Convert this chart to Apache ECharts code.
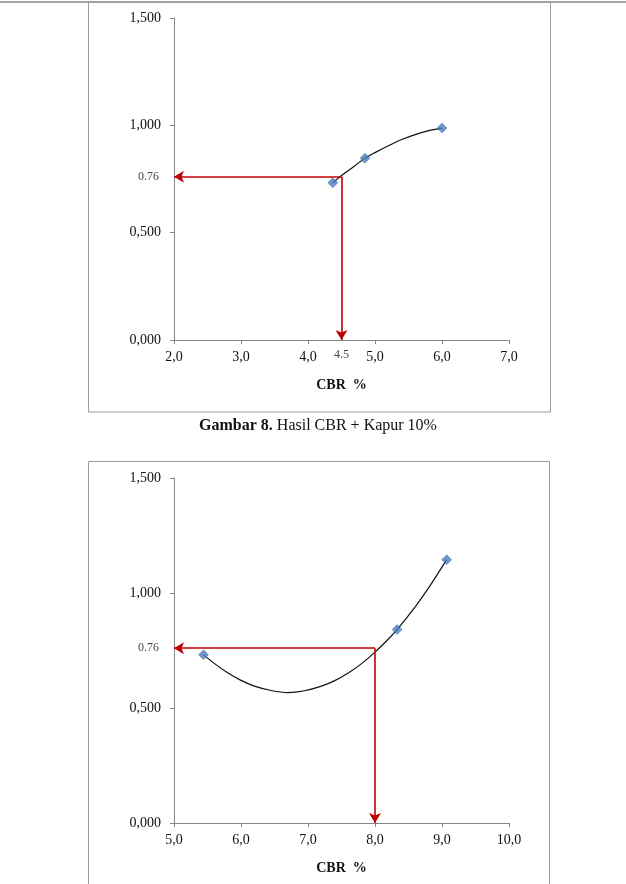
<!DOCTYPE html>
<html>
<head>
<meta charset="utf-8">
<script src="https://cdn.jsdelivr.net/npm/echarts@6/dist/echarts.min.js"></script>
<style>
  html, body { margin: 0; padding: 0; background: #fff; }
  #chart { width: 626px; height: 884px; }
</style>
</head>
<body>
<div id="chart"></div>
<script>
// Gambar 8: CBR + Kapur 10% (top chart)
const pointsTop = [[4.37, 0.732], [4.85, 0.847], [6.0, 0.987]];
const trendTop = [[4.37, 0.732], [4.5, 0.766], [4.7, 0.812], [4.85, 0.847], [5.0, 0.873], [5.2, 0.905], [5.4, 0.934], [5.6, 0.957], [5.8, 0.975], [6.0, 0.987]];
const guideTop = [4.5, 0.76];

// second chart (bottom)
const pointsBottom = [[5.44, 0.732], [8.33, 0.841], [9.07, 1.145]];
const trendBottom = [[5.44, 0.732], [5.6, 0.694], [5.8, 0.653], [6.0, 0.62], [6.2, 0.595], [6.45, 0.576], [6.7, 0.567], [6.95, 0.575], [7.2, 0.595], [7.4, 0.619], [7.6, 0.652], [7.8, 0.693], [8.0, 0.743], [8.2, 0.8], [8.33, 0.841], [8.6, 0.94], [8.8, 1.022], [9.07, 1.145]];
const guideBottom = [8.0, 0.76];

const xRangeTop = [2, 7];
const xRangeBottom = [5, 10];
const yRange = [0, 1.5];

const serif = 'Liberation Serif';
const red = '#C00000';
const axisGrey = '#868686';

function xAxis(idx, range) {
  return {
    type: 'value', gridIndex: idx, min: range[0], max: range[1], interval: 1,
    name: 'CBR  %', nameLocation: 'middle', nameGap: 38,
    nameTextStyle: { fontFamily: serif, fontSize: 14, fontWeight: 'bold', color: '#111' },
    axisLine: { lineStyle: { color: axisGrey } },
    axisTick: { length: 4, lineStyle: { color: axisGrey } },
    splitLine: { show: false },
    axisLabel: { fontFamily: serif, fontSize: 14, color: '#111', margin: 10,
      formatter: v => v.toFixed(1).replace('.', ',') }
  };
}
function yAxis(idx) {
  return {
    type: 'value', gridIndex: idx, min: yRange[0], max: yRange[1], interval: 0.5,
    axisLine: { show: true, lineStyle: { color: axisGrey } },
    axisTick: { show: true, length: 4, lineStyle: { color: axisGrey } },
    splitLine: { show: false },
    axisLabel: { fontFamily: serif, fontSize: 14, color: '#111', margin: 13,
      formatter: v => v.toFixed(3).replace('.', ',') }
  };
}

function guideLines(g, xMin) {
  return {
    silent: true, animation: false,
    symbol: ['none', 'arrow'], symbolSize: [9, 10],
    lineStyle: { color: red, width: 1.6, type: 'solid' },
    label: { show: false },
    data: [
      [{ coord: [g[0], g[1]] }, { coord: [xMin, g[1]] }],
      [{ coord: [g[0], g[1]] }, { coord: [g[0], 0] }]
    ]
  };
}

function seriesFor(idx, pts, trend, g, xMin, showX) {
  const out = [
    {
      type: 'line', xAxisIndex: idx, yAxisIndex: idx, data: trend,
      smooth: 0.3, showSymbol: false, symbol: 'none',
      lineStyle: { color: '#111', width: 1.2 },
      markLine: guideLines(g, xMin), z: 3
    },
    {
      type: 'scatter', xAxisIndex: idx, yAxisIndex: idx, data: pts,
      symbol: 'diamond', symbolSize: 10,
      itemStyle: { color: '#4A7EBB', borderColor: '#3A6AA5', borderWidth: 0.5 }, z: 4
    },
    {
      type: 'scatter', xAxisIndex: idx, yAxisIndex: idx, data: [[xMin, g[1]]],
      symbolSize: 0, silent: true,
      label: { show: true, position: 'left', distance: 15, formatter: '0.76',
        fontFamily: serif, fontSize: 12, color: '#111' }
    }
  ];
  if (showX) {
    out.push({
      type: 'scatter', xAxisIndex: idx, yAxisIndex: idx, data: [[g[0], 0]],
      symbolSize: 0, silent: true,
      label: { show: true, position: 'bottom', distance: 9, formatter: '4.5',
        fontFamily: serif, fontSize: 12, color: '#111' }
    });
  }
  return out;
}

const chart = echarts.init(document.getElementById('chart'), null, { renderer: 'canvas' });
chart.setOption({
  animation: false,
  backgroundColor: '#fff',
  grid: [
    { left: 174, top: 18, width: 335, height: 322 },
    { left: 174, top: 478, width: 335, height: 345 }
  ],
  xAxis: [xAxis(0, xRangeTop), xAxis(1, xRangeBottom)],
  yAxis: [yAxis(0), yAxis(1)],
  series: [].concat(
    seriesFor(0, pointsTop, trendTop, guideTop, xRangeTop[0], true),
    seriesFor(1, pointsBottom, trendBottom, guideBottom, xRangeBottom[0], false)
  ),
  graphic: [
    { type: 'line', shape: { x1: 0, y1: 2, x2: 626, y2: 2 }, style: { stroke: '#8a8a8a', lineWidth: 1.5 } },
    { type: 'rect', shape: { x: 88.5, y: 2, width: 462, height: 410 }, style: { fill: 'none', stroke: '#9a9a9a', lineWidth: 1 } },
    { type: 'rect', shape: { x: 88.5, y: 461.5, width: 461, height: 440 }, style: { fill: 'none', stroke: '#9a9a9a', lineWidth: 1 } },
    {
      type: 'text', x: 318, y: 426,
      style: {
        text: '{b|Gambar 8.} Hasil CBR + Kapur 10%',
        align: 'center', verticalAlign: 'middle',
        font: '16px "Liberation Serif"', fill: '#111',
        rich: { b: { fontFamily: serif, fontSize: 16, fontWeight: 'bold', fill: '#111' } }
      }
    }
  ]
});
</script>
</body>
</html>
